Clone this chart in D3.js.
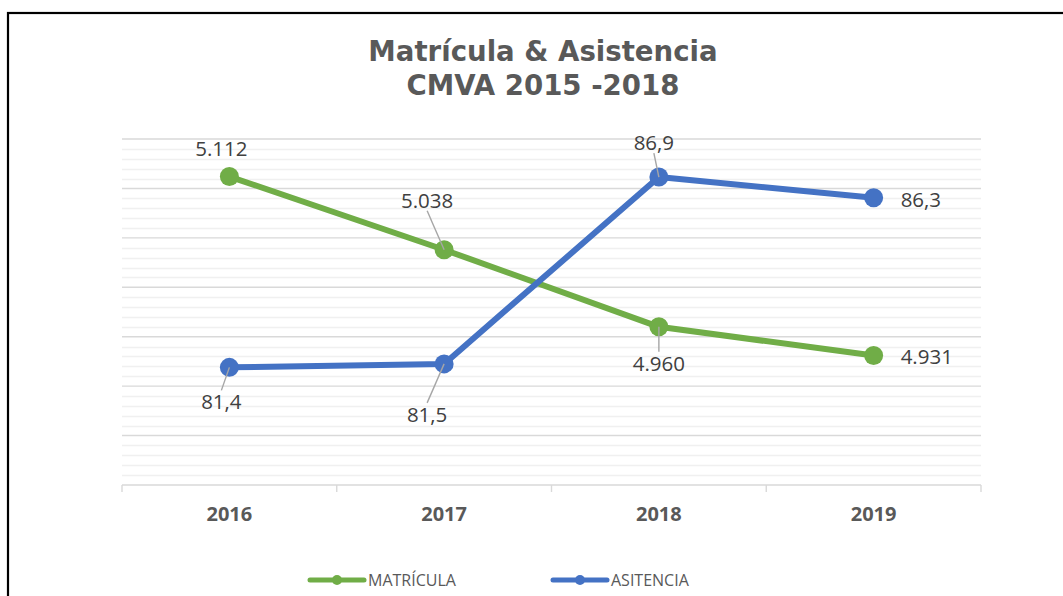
<!DOCTYPE html>
<html>
<head>
<meta charset="utf-8">
<script src="https://cdn.jsdelivr.net/npm/d3@7"></script>
<style>
  html, body { margin: 0; padding: 0; background: #fff; }
  svg { display: block; }
</style>
</head>
<body>
<svg id="chart" width="1063" height="596"></svg>
<script>
// Data
const years = ["2016", "2017", "2018", "2019"];
const matricula = [5112, 5038, 4960, 4931];
const asistencia = [81.4, 81.5, 86.9, 86.3];
const seriesNames = ["MATRÍCULA", "ASITENCIA"];
const titleLines = ["Matrícula & Asistencia", "CMVA 2015 -2018"];

const W = 1063, H = 596;
const margin = { left: 122, right: 82, top: 139, bottom: 111 };
const svg = d3.select("#chart");

const green = "#70AD47", blue = "#4472C4";
const labelFont = "'Open Sans', 'Liberation Sans', sans-serif";

// Outer frame
svg.append("rect")
  .attr("x", 8).attr("y", 13).attr("width", W + 20).attr("height", H + 20)
  .attr("fill", "none").attr("stroke", "#000").attr("stroke-width", 2.2);

// Title
svg.append("text")
  .attr("x", 543).attr("text-anchor", "middle")
  .attr("font-family", "'DejaVu Sans', Verdana, sans-serif")
  .attr("font-weight", "bold").attr("font-size", 27.6).attr("fill", "#595959")
  .selectAll("tspan").data(titleLines).join("tspan")
  .attr("x", 543).attr("y", (d, i) => 61 + i * 34).text(d => d);

const x = d3.scaleBand().domain(years).range([margin.left, W - margin.right]);
const yL = d3.scaleLinear().domain([4800, 5150]).range([H - margin.bottom, margin.top]);
const yR = d3.scaleLinear().domain([78, 88]).range([H - margin.bottom, margin.top]);

// Gridlines: minor every 10, major every 50 (primary axis)
const minorTicks = d3.range(4800, 5151, 10).filter(v => v % 50 !== 0);
const majorTicks = d3.range(4850, 5151, 50);
svg.append("g").selectAll("line").data(minorTicks).join("line")
  .attr("x1", margin.left).attr("x2", W - margin.right)
  .attr("y1", d => Math.round(yL(d)) + 0.5).attr("y2", d => Math.round(yL(d)) + 0.5)
  .attr("stroke", "#f0f0f0").attr("stroke-width", 1.6);
svg.append("g").selectAll("line").data(majorTicks).join("line")
  .attr("x1", margin.left).attr("x2", W - margin.right)
  .attr("y1", d => yL(d)).attr("y2", d => yL(d))
  .attr("stroke", "#d9d9d9").attr("stroke-width", 1.4);

// Category axis
const xAxis = d3.axisBottom(x).tickSize(0).tickPadding(22);
const gx = svg.append("g").attr("transform", `translate(0,${H - margin.bottom})`).call(xAxis);
gx.select(".domain").attr("stroke", "#d9d9d9").attr("stroke-width", 1.4)
  .attr("d", `M${margin.left},0H${W - margin.right}`);
gx.selectAll(".tick text")
  .attr("font-family", labelFont).attr("font-weight", "bold")
  .attr("font-size", 20).attr("fill", "#595959");
// Tick marks at band boundaries
const bounds = years.map(d => x(d)).concat([x(years[years.length - 1]) + x.bandwidth()]);
gx.append("g").selectAll("line").data(bounds).join("line")
  .attr("x1", d => d).attr("x2", d => d).attr("y1", 0).attr("y2", 7)
  .attr("stroke", "#d9d9d9").attr("stroke-width", 1.4);

const cx = d => x(d) + x.bandwidth() / 2;

function drawSeries(values, yScale, color) {
  const pts = years.map((d, i) => [cx(d), yScale(values[i])]);
  svg.append("path").datum(pts)
    .attr("d", d3.line())
    .attr("fill", "none").attr("stroke", color).attr("stroke-width", 6)
    .attr("stroke-linejoin", "round").attr("stroke-linecap", "round");
  svg.append("g").selectAll("circle").data(pts).join("circle")
    .attr("cx", d => d[0]).attr("cy", d => d[1]).attr("r", 9.5).attr("fill", color);
  return pts;
}

const ptsM = drawSeries(matricula, yL, green);
const ptsA = drawSeries(asistencia, yR, blue);

// Data labels with offsets (dx, dy of text centre from point) and optional leader lines
const fmtM = v => d3.format(",")(v).replace(/,/g, ".");
const fmtA = v => d3.format(".1f")(v).replace(".", ",");

const labelsM = [
  { dx: -8, dy: -29, leader: false },
  { dx: -17, dy: -50, leader: true },
  { dx: 0, dy: 36, leader: true },
  { dx: 50, dy: 1, leader: false, anchor: "start", ax: 27 }
];
const labelsA = [
  { dx: -8, dy: 34, leader: true },
  { dx: -17, dy: 50, leader: true },
  { dx: -5, dy: -35, leader: true },
  { dx: 50, dy: 1, leader: false, anchor: "start", ax: 27 }
];

function drawLabels(pts, values, fmt, specs) {
  const g = svg.append("g");
  pts.forEach((p, i) => {
    const s = specs[i];
    const tx = s.anchor === "start" ? p[0] + s.ax : p[0] + s.dx;
    const ty = p[1] + s.dy;
    if (s.leader) {
      // leader from label edge toward the point
      const lx = p[0] + s.dx, ly = ty + (s.dy < 0 ? 11 : -11);
      g.append("line")
        .attr("x1", lx).attr("y1", ly).attr("x2", p[0]).attr("y2", p[1])
        .attr("stroke", "#a6a6a6").attr("stroke-width", 1.4);
    }
    g.append("text")
      .attr("x", tx).attr("y", ty)
      .attr("text-anchor", s.anchor || "middle").attr("dominant-baseline", "central")
      .attr("font-family", labelFont).attr("font-size", 20.5).attr("fill", "#404040")
      .text(fmt(values[i]));
  });
}
drawLabels(ptsM, matricula, fmtM, labelsM);
drawLabels(ptsA, asistencia, fmtA, labelsA);

// Legend
const legend = [
  { name: seriesNames[0], color: green, x: 310 },
  { name: seriesNames[1], color: blue, x: 553 }
];
const lg = svg.append("g");
legend.forEach(l => {
  lg.append("line").attr("x1", l.x).attr("x2", l.x + 54).attr("y1", 580).attr("y2", 580)
    .attr("stroke", l.color).attr("stroke-width", 5).attr("stroke-linecap", "round");
  lg.append("circle").attr("cx", l.x + 27).attr("cy", 580).attr("r", 5).attr("fill", l.color);
  lg.append("text").attr("x", l.x + 58).attr("y", 580).attr("dominant-baseline", "central")
    .attr("font-family", labelFont).attr("font-size", 16).attr("fill", "#595959").text(l.name);
});
</script>
</body>
</html>
